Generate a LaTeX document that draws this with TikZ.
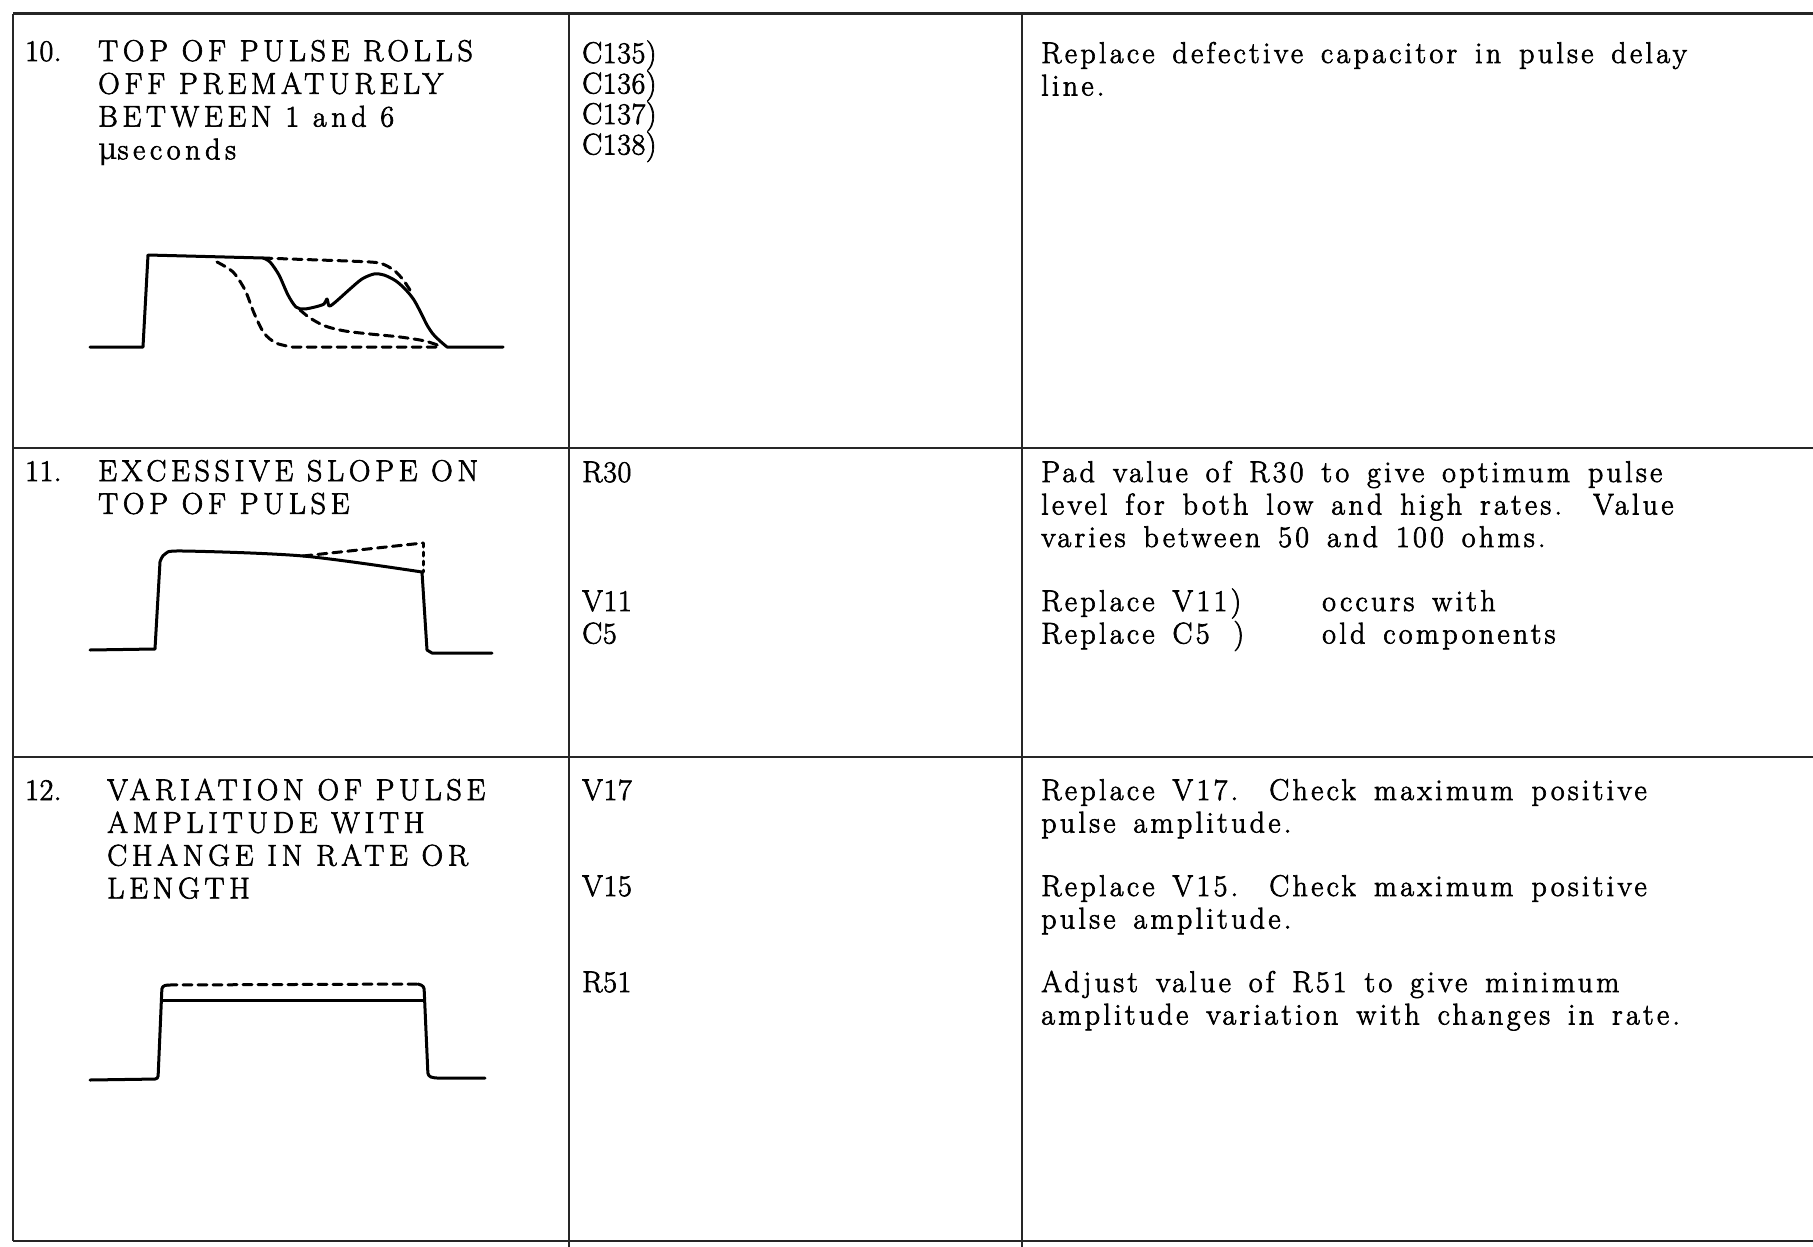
\documentclass[tikz,border=0pt]{standalone}
\usepackage{fontspec}
\usetikzlibrary{positioning}
\setmainfont{Latin Modern Roman}
\newfontfamily\mufont{DejaVu Serif}
\newfontfamily\capsfont{Latin Modern Roman}[LetterSpace=15.5, FakeBold=2.2]
\newfontfamily\fixfont{Latin Modern Roman}[LetterSpace=11, WordSpace=1.45, FakeBold=2.2]
\newfontfamily\refsfont{Latin Modern Roman}[LetterSpace=2, FakeBold=2.2]
\newcommand{\capcell}{\capsfont\fontsize{30}{32.8}\selectfont}
\newcommand{\fixcell}{\fixfont\fontsize{30}{32.5}\selectfont}
\newcommand{\refcell}{\refsfont\fontsize{30}{30.5}\selectfont}

\begin{document}
\begin{tikzpicture}[x=1pt,y=-1pt]
	\tikzstyle{cell}=[anchor=base west, inner sep=0pt, align=left]
	\tikzstyle{sym}=[cell, font=\capcell]
	\tikzstyle{part}=[cell, font=\refcell]
	\tikzstyle{fix}=[cell, font=\fixcell]
	\tikzstyle{rule}=[line width=2.4pt, black!85]
	\tikzstyle{wave}=[line width=3pt, line join=round, line cap=round]
	\tikzstyle{ghost}=[wave, dash pattern=on 9pt off 6pt]
	\useasboundingbox (0,0) rectangle (1813,1247);
	% table rules
	\draw[rule, line width=3pt] (13,14) -- (1813,14);
	\draw[rule] (13,448) -- (1813,448);
	\draw[rule] (13,757) -- (1813,757);
	\draw[rule] (13,1241) -- (1813,1241);
	\draw[rule, line width=1.8pt] (13,14) -- (13,1241);
	\draw[rule, line width=1.8pt] (569,14) -- (569,1247);
	\draw[rule, line width=1.8pt] (1022,14) -- (1022,1247);

	% row 10 (a node's base is its last line)
	\node[part] (n10) at (25,61) {10.};
	\node[sym] (sym10) at (98,159.4) {TOP OF PULSE ROLLS\\OFF PREMATURELY\\BETWEEN 1 and 6\\{\mufont μ}seconds};
	\node[part] (part10) at (582,154.5) {C135)\\C136)\\C137)\\C138)};
	\node[fix] (fix10) at (1041,95.5) {Replace defective capacitor in pulse delay\\line.};
	\draw[wave] (90,347) -- (143,347) -- (148,255) -- (263,258)
		plot[smooth, tension=0.5] coordinates {(263,258) (270,262) (279,275) (288,295) (296,307) (304,309) (315,307) (324,304) (327,299) (329,306) (333,304) (340,298) (350,289) (362,279) (374,274) (384,275) (396,281) (406,290) (414,300) (421,313) (427,325) (433,334) (440,341) (447,347)}
		-- (503,347);
	\draw[ghost] plot[smooth] coordinates {(263,258) (290,259) (370,262) (385,265) (396,272) (404,281) (410,290)};
	\draw[ghost] plot[smooth] coordinates {(300,310) (310,318) (325,326) (345,331) (370,334) (400,337) (425,341) (440,346)};
	\draw[ghost] plot[smooth] coordinates {(217,262) (233,272) (245,290) (254,313) (264,333) (276,343) (292,347)} -- (440,347);

	% row 11
	\node[part] (n11) at (25,481) {11.};
	\node[sym] (sym11) at (98,513.8) {EXCESSIVE SLOPE ON\\TOP OF PULSE};
	\node[part] (partA11) at (582,482) {R30};
	\node[part] (partB11) at (582,643.5) {V11\\[2pt]C5};
	\node[fix] (fixA11) at (1041,547) {Pad value of R30 to give optimum pulse\\level for both low and high rates.\hspace{.3em} Value\\varies between 50 and 100 ohms.};
	\node[fix] (fixB11) at (1041,643.5) {Replace V11)\\Replace C5\hspace{.8em})};
	\node[fix] (note11) at (1322,643.5) {occurs with\\old components};
	\draw[wave] (90,650) -- (155,649) -- (160,562)
		plot[smooth] coordinates {(160,562) (165,554) (183,551) (303,556) (422,572)}
		-- (427,650) -- (432,653) -- (492,653);
	\draw[ghost] (303,556) -- (423,543);
	\draw[wave, dash pattern=on 4pt off 5pt] (423,543) -- (423,572);

	% row 12
	\node[part] (n12) at (25,800) {12.};
	\node[sym] (sym12) at (107,898.4) {VARIATION OF PULSE\\AMPLITUDE WITH\\CHANGE IN RATE OR\\LENGTH};
	\node[part] (partA12) at (582,800) {V17};
	\node[part] (partB12) at (582,896) {V15};
	\node[part] (partC12) at (582,992) {R51};
	\node[fix] (fixA12) at (1041,832.5) {Replace V17.\hspace{.3em} Check maximum positive\\pulse amplitude.};
	\node[fix] (fixB12) at (1041,928.5) {Replace V15.\hspace{.3em} Check maximum positive\\pulse amplitude.};
	\node[fix] (fixC12) at (1041,1024.5) {Adjust value of R51 to give minimum\\amplitude variation with changes in rate.};
	\draw[wave, rounded corners=3pt] (90,1080) -- (158,1079) -- (162,986) -- (168,985);
	\draw[wave] (162,1000) -- (424,1000);
	\draw[wave, rounded corners=3pt] (418,984) -- (424,986) -- (428,1076) -- (434,1078) -- (485,1078);
	\draw[ghost] (168,985) -- (418,984);
\end{tikzpicture}
\end{document}
